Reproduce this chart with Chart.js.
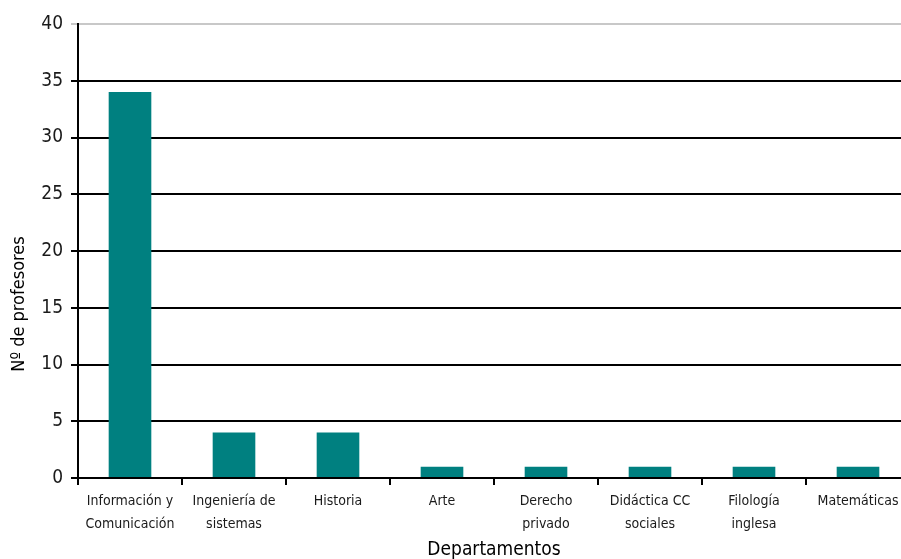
<!DOCTYPE html>
<html lang="es">
<head>
<meta charset="UTF-8">
<title>Profesores por departamento</title>
<script src="https://cdn.jsdelivr.net/npm/chart.js"></script>
<style>
    html, body { margin: 0; padding: 0; background: #fff; overflow: hidden; }
    .contenedor { width: 910px; height: 559px; }
</style>
</head>
<body>
<div class="contenedor"><canvas id="grafico"></canvas></div>
<script>
const departamentos = [
    ['Información y', 'Comunicación'],
    ['Ingeniería de', 'sistemas'],
    'Historia',
    'Arte',
    ['Derecho', 'privado'],
    ['Didáctica CC', 'sociales'],
    ['Filología', 'inglesa'],
    'Matemáticas'
];
const profesores = [34, 4, 4, 1, 1, 1, 1, 1];
const ticksY = [0, 5, 10, 15, 20, 25, 30, 35, 40];

const fuente = "'DejaVu Sans Condensed', 'Liberation Sans Narrow', 'Liberation Sans', Arial, sans-serif";

// titulo del eje Y dibujado a mano porque no esta centrado en el area
const tituloY = {
    id: 'tituloY',
    afterDraw(chart) {
        const ctx = chart.ctx;
        const area = chart.chartArea;
        ctx.save();
        ctx.translate(19, (area.top + area.bottom) / 2 + 53);
        ctx.rotate(-Math.PI / 2);
        ctx.font = '18px ' + fuente;
        ctx.fillStyle = '#000';
        ctx.textAlign = 'center';
        ctx.textBaseline = 'middle';
        ctx.fillText('Nº de profesores', 0, 0);
        ctx.restore();
    }
};

new Chart(document.getElementById('grafico'), {
    type: 'bar',
    data: {
        labels: departamentos,
        datasets: [{
            label: 'Nº de profesores',
            data: profesores,
            backgroundColor: '#008080',
            borderWidth: 0,
            barPercentage: 0.41,
            categoryPercentage: 1
        }]
    },
    options: {
        responsive: true,
        maintainAspectRatio: false,
        animation: false,
        layout: { padding: { top: 24, right: 0, left: 0, bottom: 0 } },
        plugins: {
            legend: { display: false },
            tooltip: { enabled: false }
        },
        scales: {
            x: {
                grid: {
                    offset: true,
                    drawOnChartArea: false,
                    color: '#000',
                    lineWidth: 2,
                    tickLength: 7
                },
                border: { color: '#000', width: 2 },
                ticks: {
                    color: '#1a1a1a',
                    font: { family: fuente, size: 14, lineHeight: 1.7 },
                    maxRotation: 0,
                    autoSkip: false,
                    padding: 4
                },
                title: {
                    display: true,
                    text: 'Departamentos',
                    color: '#000',
                    font: { family: fuente, size: 19 },
                    padding: { top: 0, bottom: -2 }
                },
                afterFit(scale) { scale.height = 81; }
            },
            y: {
                min: 0,
                max: 40,
                afterBuildTicks(scale) { scale.ticks = ticksY.map(v => ({ value: v })); },
                grid: {
                    color: ctx => ctx.tick && ctx.tick.value === 40 ? '#c8c8c8' : '#000',
                    lineWidth: 2,
                    tickLength: 7
                },
                border: { color: '#000', width: 2 },
                ticks: {
                    color: '#1a1a1a',
                    font: { family: fuente, size: 19 },
                    padding: 8
                },
                afterFit(scale) { scale.width = 78; }
            }
        }
    },
    plugins: [tituloY]
});
</script>
</body>
</html>
